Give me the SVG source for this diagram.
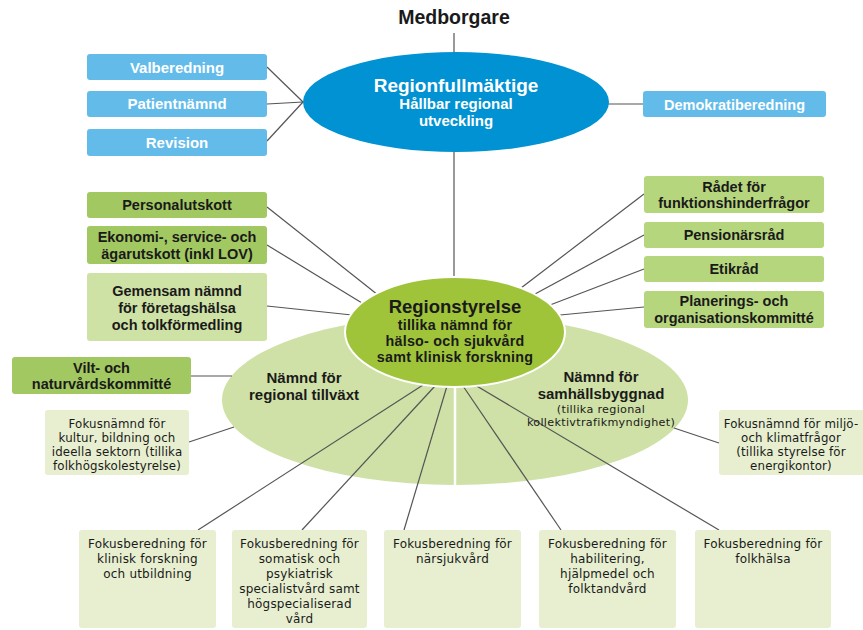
<svg xmlns="http://www.w3.org/2000/svg" width="863" height="630" viewBox="0 0 863 630">
<style>
.b{font-family:"Liberation Sans",Arial,sans-serif;font-weight:bold;text-anchor:middle;fill:#1a1a1a}
.w{fill:#ffffff}
.r{font-family:"DejaVu Sans","Open Sans",sans-serif;text-anchor:middle;fill:#1a1a1a;font-size:12px;letter-spacing:0.2px}
.fn{font-size:11.8px;letter-spacing:0.15px}
.sm{font-size:11.2px;letter-spacing:0.3px}
.bx{font-size:14.5px}
.lb{fill:#63bbea}
.dg{fill:#a2c862}
.mg{fill:#b6d67e}
.lg{fill:#cfe2a6}
.pg{fill:#e7efd0}
.c line{stroke:#555;stroke-width:1.2}
</style>
<rect width="863" height="630" fill="#fff"/>
<g id="big-ellipse-bg">
<ellipse cx="455" cy="400" rx="233" ry="85" fill="#cfe1a6"/>
<line x1="455" y1="385" x2="455" y2="486" stroke="#fff" stroke-width="2.5"/>
</g>
<g id="connectors" class="c">
<line x1="454" y1="33" x2="454" y2="53"/>
<line x1="454" y1="152" x2="454" y2="277"/>
<line x1="267" y1="67" x2="303" y2="102"/>
<line x1="267" y1="104" x2="303" y2="102"/>
<line x1="267" y1="141" x2="303" y2="102"/>
<line x1="608" y1="104" x2="643" y2="104"/>
<line x1="267" y1="207" x2="378" y2="295"/>
<line x1="267" y1="245" x2="362" y2="303"/>
<line x1="267" y1="306" x2="352" y2="315"/>
<line x1="644" y1="194" x2="521" y2="288"/>
<line x1="644" y1="235" x2="535" y2="294"/>
<line x1="644" y1="269" x2="550" y2="305"/>
<line x1="644" y1="307" x2="560" y2="315"/>
<line x1="191" y1="376" x2="232" y2="376"/>
<line x1="189" y1="442" x2="234" y2="427"/>
<line x1="674" y1="428" x2="719" y2="443"/>
<line x1="198" y1="530" x2="423" y2="385"/>
<line x1="302" y1="530" x2="435" y2="386"/>
<line x1="404" y1="530" x2="447" y2="386"/>
<line x1="561" y1="530" x2="463" y2="386"/>
<line x1="719" y1="530" x2="475" y2="385"/>
</g>
<g id="medborgare">
<text class="b" x="454" y="24" font-size="19.5">Medborgare</text>
</g>
<g id="regionfullmaktige">
<ellipse cx="456" cy="102" rx="153" ry="50" fill="#0092d2"/>
<text class="b w" x="456" y="91.5" font-size="19">Regionfullmäktige</text>
<text class="b w" x="456" y="109.3" font-size="15">Hållbar regional</text>
<text class="b w" x="456" y="126.3" font-size="15">utveckling</text>
</g>
<g id="valberedning">
<rect class="lb" x="87" y="54" width="180" height="26" rx="3"/>
<text class="b w" x="177" y="72.5" font-size="15">Valberedning</text>
</g>
<g id="patientnamnd">
<rect class="lb" x="87" y="91" width="180" height="26" rx="3"/>
<text class="b w" x="177" y="109" font-size="15">Patientnämnd</text>
</g>
<g id="revision">
<rect class="lb" x="87" y="129" width="180" height="27" rx="3"/>
<text class="b w" x="177" y="147.5" font-size="15">Revision</text>
</g>
<g id="demokratiberedning">
<rect class="lb" x="643" y="91" width="183" height="26" rx="3"/>
<text class="b w bx" x="734.5" y="109.5">Demokratiberedning</text>
</g>
<g id="personalutskott">
<rect class="dg" x="87" y="192" width="180" height="26" rx="3"/>
<text class="b bx" x="177" y="210">Personalutskott</text>
</g>
<g id="ekonomiutskott">
<rect class="dg" x="87" y="226" width="180" height="38" rx="3"/>
<text class="b bx" x="177" y="241.5">Ekonomi-, service- och</text>
<text class="b bx" x="177" y="258.5">ägarutskott (inkl LOV)</text>
</g>
<g id="gemensam-namnd">
<rect class="lg" x="87" y="273" width="180" height="68" rx="3"/>
<text class="b bx" x="177" y="295.5">Gemensam nämnd</text>
<text class="b bx" x="177" y="312.5">för företagshälsa</text>
<text class="b bx" x="177" y="329.5">och tolkförmedling</text>
</g>
<g id="vilt">
<rect class="dg" x="12" y="357" width="179" height="37" rx="3"/>
<text class="b bx" x="101.5" y="372.6">Vilt- och</text>
<text class="b bx" x="101.5" y="389.2">naturvårdskommitté</text>
</g>
<g id="radet">
<rect class="mg" x="644" y="176" width="180" height="37" rx="3"/>
<text class="b bx" x="734" y="191.6">Rådet för</text>
<text class="b bx" x="734" y="208.2">funktionshinderfrågor</text>
</g>
<g id="pensionarsrad">
<rect class="mg" x="644" y="222" width="180" height="26" rx="3"/>
<text class="b bx" x="734" y="240">Pensionärsråd</text>
</g>
<g id="etikrad">
<rect class="mg" x="644" y="256" width="180" height="26" rx="3"/>
<text class="b bx" x="734" y="274">Etikråd</text>
</g>
<g id="planerings">
<rect class="mg" x="644" y="291" width="180" height="37" rx="3"/>
<text class="b bx" x="734" y="306.1">Planerings- och</text>
<text class="b bx" x="734" y="322.7">organisationskommitté</text>
</g>
<g id="namnd-tillvaxt">
<text class="b" x="304" y="382.5" font-size="15">Nämnd för</text>
<text class="b" x="304" y="399.5" font-size="15">regional tillväxt</text>
</g>
<g id="namnd-samhallsbyggnad">
<text class="b" x="601" y="381.8" font-size="15">Nämnd för</text>
<text class="b" x="601" y="398.8" font-size="15">samhällsbyggnad</text>
<text class="r sm" x="601" y="412.6">(tillika regional</text>
<text class="r sm" x="601" y="425.8">kollektivtrafikmyndighet)</text>
</g>
<g id="regionstyrelse">
<ellipse cx="455" cy="332" rx="110" ry="55" fill="#9fc43a" stroke="#fff" stroke-width="2"/>
<text class="b" x="455" y="313" font-size="18.5">Regionstyrelse</text>
<text class="b" x="455" y="330.2" font-size="14.3" letter-spacing="0.25">tillika nämnd för</text>
<text class="b" x="455" y="346.2" font-size="14.3" letter-spacing="0.25">hälso- och sjukvård</text>
<text class="b" x="455" y="362.2" font-size="14.3" letter-spacing="0.25">samt klinisk forskning</text>
</g>
<g id="fokus-kultur">
<rect class="pg" x="45" y="410" width="144" height="65" rx="3"/>
<text class="r fn" x="117" y="427.5">Fokusnämnd för</text>
<text class="r fn" x="117" y="441.5">kultur, bildning och</text>
<text class="r fn" x="117" y="455.5">ideella sektorn (tillika</text>
<text class="r fn" x="117" y="469.5">folkhögskolestyrelse)</text>
</g>
<g id="fokus-miljo">
<rect class="pg" x="719" y="410" width="146" height="65" rx="3"/>
<text class="r fn" x="791" y="427.5">Fokusnämnd för miljö-</text>
<text class="r fn" x="791" y="441.5">och klimatfrågor</text>
<text class="r fn" x="791" y="455.5">(tillika styrelse för</text>
<text class="r fn" x="791" y="469.5">energikontor)</text>
</g>
<g id="fokus-klinisk">
<rect class="pg" x="79" y="530" width="137" height="98" rx="3"/>
<text class="r" x="147.5" y="548">Fokusberedning för</text>
<text class="r" x="147.5" y="563">klinisk forskning</text>
<text class="r" x="147.5" y="578">och utbildning</text>
</g>
<g id="fokus-somatisk">
<rect class="pg" x="232" y="530" width="135" height="98" rx="3"/>
<text class="r" x="299.5" y="548">Fokusberedning för</text>
<text class="r" x="299.5" y="563">somatisk och</text>
<text class="r" x="299.5" y="578">psykiatrisk</text>
<text class="r" x="299.5" y="593">specialistvård samt</text>
<text class="r" x="299.5" y="608">högspecialiserad</text>
<text class="r" x="299.5" y="623">vård</text>
</g>
<g id="fokus-narsjukvard">
<rect class="pg" x="384" y="530" width="137" height="98" rx="3"/>
<text class="r" x="452.5" y="548">Fokusberedning för</text>
<text class="r" x="452.5" y="563">närsjukvård</text>
</g>
<g id="fokus-habilitering">
<rect class="pg" x="539" y="530" width="137" height="98" rx="3"/>
<text class="r" x="607.5" y="548">Fokusberedning för</text>
<text class="r" x="607.5" y="563">habilitering,</text>
<text class="r" x="607.5" y="578">hjälpmedel och</text>
<text class="r" x="607.5" y="593">folktandvård</text>
</g>
<g id="fokus-folkhalsa">
<rect class="pg" x="695" y="530" width="136" height="98" rx="3"/>
<text class="r" x="763" y="548">Fokusberedning för</text>
<text class="r" x="763" y="563">folkhälsa</text>
</g>
</svg>
